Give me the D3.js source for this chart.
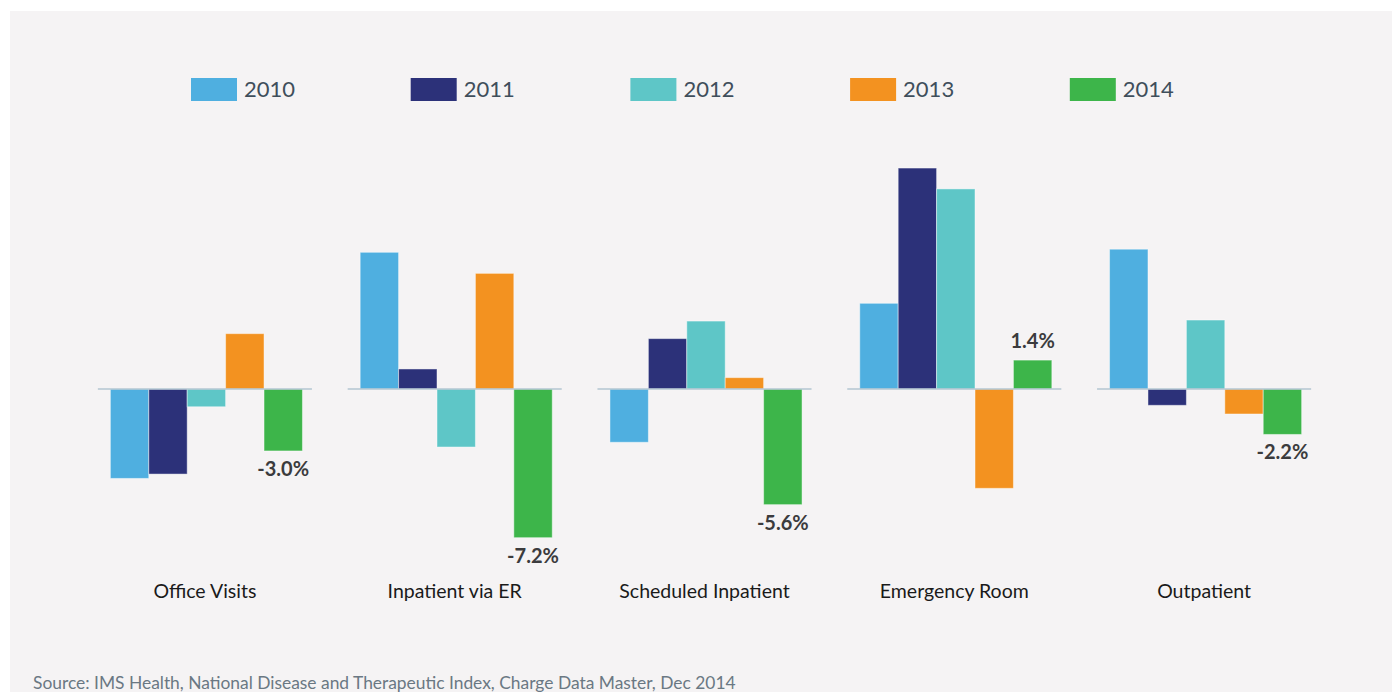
<!DOCTYPE html>
<html>
<head>
<meta charset="utf-8">
<script src="https://cdn.jsdelivr.net/npm/d3@7"></script>
<style>
	html, body { margin: 0; padding: 0; background: #ffffff; }
	svg { display: block; font-family: Lato, "Open Sans", sans-serif; }
</style>
</head>
<body>
<div class="chart"></div>
<script>
// data (% change)
var categories = ["Office Visits", "Inpatient via ER", "Scheduled Inpatient", "Emergency Room", "Outpatient"];
var years = ["2010", "2011", "2012", "2013", "2014"];
var values2010 = [-4.33, 6.62, -2.58, 4.15, 6.77];
var values2011 = [-4.12, 0.97, 2.44, 10.7, -0.79];
var values2012 = [-0.86, -2.81, 3.29, 9.69, 3.34];
var values2013 = [2.68, 5.6, 0.55, -4.81, -1.21];
var values2014 = [-3.0, -7.2, -5.6, 1.4, -2.2];
var labels2014 = ["-3.0%", "-7.2%", "-5.6%", "1.4%", "-2.2%"];
var yearColors = ["#4fafe0", "#2c3179", "#5ec6c7", "#f39220", "#3db54a"];
var sourceText = "Source: IMS Health, National Disease and Therapeutic Index, Charge Data Master, Dec 2014";

var width = 1392, height = 692;
var seriesValues = [values2010, values2011, values2012, values2013, values2014];

var rows = categories.map(function(c, i){
	var row = {category: c, label: labels2014[i]};
	years.forEach(function(y, j){ row[y] = seriesValues[j][i]; });
	return row;
});

var svg = d3.select("div.chart")
	.append("svg")
	.attr("width", width)
	.attr("height", height);

// panel background
svg.append("rect")
	.attr("x", 10)
	.attr("y", 11)
	.attr("width", width - 10)
	.attr("height", height - 11)
	.attr("fill", "#f5f3f4");

var x0 = d3.scaleBand()
	.domain(categories)
	.range([80, 1329])
	.paddingInner(0.143)
	.paddingOuter(0.0715);

var x1 = d3.scaleBand()
	.domain(years)
	.range([12.5, x0.bandwidth() - 9.5]);

var y = d3.scaleLinear()
	.domain([-8, 11])
	.range([554.2, 161.85]);

var colorGen = d3.scaleOrdinal().domain(years).range(yearColors);

// legend
var legendX = d3.scaleBand().domain(years).range([191, 191 + 219.7 * years.length]);
var legend = svg.append("g").classed("legend", true);
var legendItems = legend.selectAll("g.item")
	.data(years)
	.enter()
	.append("g")
	.classed("item", true)
	.attr("transform", function(d){ return "translate(" + legendX(d) + ",78)"; });
legendItems.append("rect")
	.attr("width", 46)
	.attr("height", 23)
	.attr("fill", function(d){ return colorGen(d); });
legendItems.append("text")
	.attr("x", 53)
	.attr("y", 18.5)
	.style("font-size", "22px")
	.style("fill", "#3f4e5b")
	.text(function(d){ return d; });

var groups = svg.selectAll("g.group")
	.data(rows)
	.enter()
	.append("g")
	.classed("group", true)
	.attr("transform", function(d){ return "translate(" + x0(d.category) + ",0)"; });

groups.selectAll("rect.bar")
	.data(function(d){
		return years.map(function(yr){ return {year: yr, value: d[yr]}; });
	})
	.enter()
	.append("rect")
	.classed("bar", true)
	.attr("x", function(d){ return x1(d.year); })
	.attr("width", x1.bandwidth())
	.attr("y", function(d){ return y(Math.max(0, d.value)); })
	.attr("height", function(d){ return Math.abs(y(d.value) - y(0)); })
	.attr("fill", function(d){ return colorGen(d.year); })
	.attr("stroke", "#ffffff")
	.attr("stroke-opacity", 0.45)
	.attr("stroke-width", 1);

// zero line per group
groups.append("line")
	.attr("x1", 0)
	.attr("x2", x0.bandwidth())
	.attr("y1", y(0))
	.attr("y2", y(0))
	.attr("stroke", "#b3c6d2")
	.attr("stroke-width", 1.5);

// 2014 value labels
groups.append("text")
	.attr("x", x1("2014") + x1.bandwidth() / 2)
	.attr("y", function(d){
		return d["2014"] < 0 ? y(d["2014"]) + 25 : y(d["2014"]) - 12;
	})
	.style("text-anchor", "middle")
	.style("font-size", "20px")
	.style("font-weight", "bold")
	.style("fill", "#3b3b3d")
	.text(function(d){ return d.label; });

// category labels
groups.append("text")
	.attr("x", x0.bandwidth() / 2)
	.attr("y", 598)
	.style("text-anchor", "middle")
	.style("font-size", "19.5px")
	.style("fill", "#1a1a1a")
	.text(function(d){ return d.category; });

svg.append("text")
	.attr("x", 33)
	.attr("y", 689)
	.style("font-size", "17.4px")
	.style("fill", "#6a7883")
	.text(sourceText);
</script>
</body>
</html>
